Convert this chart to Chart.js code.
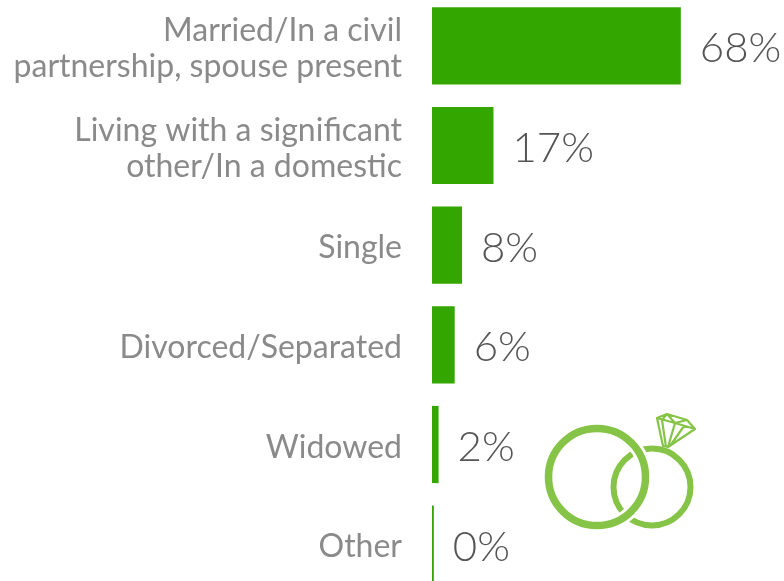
<!DOCTYPE html>
<html><head><meta charset="utf-8">
<style>html,body{margin:0;padding:0;background:#fff;overflow:hidden}#w{position:relative;width:784px;height:581px;overflow:hidden}canvas{display:block;position:absolute;left:0;top:-4px}</style>
<script src="https://cdn.jsdelivr.net/npm/chart.js@4"></script></head>
<body><div id="w"><canvas id="c" width="784" height="598"></canvas></div>
<script>
const categories=[["Married/In a civil","partnership, spouse present"],["Living with a significant","other/In a domestic"],["Single"],["Divorced/Separated"],["Widowed"],["Other"]];
const values=[68,16.8,8.2,6.2,1.8,0.5];
const valueLabels=["68%","17%","8%","6%","2%","0%"];
const FONT='Lato, "Open Sans", sans-serif';
const GREEN='#86c447';
const ringIcon={id:'ringIcon',afterDraw(ch){const x=ch.ctx;x.save();x.translate(0,4);
x.strokeStyle=GREEN;x.lineWidth=6;x.beginPath();x.arc(652,487,38.5,0,Math.PI*2);x.stroke();
x.strokeStyle='#fff';x.lineWidth=13;x.beginPath();x.arc(597,477,48.5,0,Math.PI*2);x.stroke();
x.strokeStyle=GREEN;x.lineWidth=7.5;x.beginPath();x.arc(597,477,48.5,0,Math.PI*2);x.stroke();
x.lineWidth=2.2;x.lineJoin='round';x.beginPath();
x.moveTo(657,418);x.lineTo(667,414);x.lineTo(687,420);x.lineTo(695,429);x.lineTo(668,447);x.lineTo(663,446);x.closePath();
x.moveTo(657,418);x.lineTo(675,423);x.lineTo(695,429);
x.moveTo(667,414);x.lineTo(675,423);x.lineTo(687,420);
x.moveTo(667,414);x.lineTo(662,420);x.lineTo(666,447);
x.moveTo(675,423);x.lineTo(668,447);
x.moveTo(684,426);x.lineTo(670,446);
x.stroke();x.restore();}};
const valueText={id:'valueText',afterDatasetsDraw(ch){const x=ch.ctx;const m=ch.getDatasetMeta(0);x.save();x.font='300 42px '+FONT;x.fillStyle='#555';x.textBaseline='middle';
m.data.forEach((b,i)=>x.fillText(valueLabels[i],b.x+19,b.y+3));x.restore();}};
new Chart(document.getElementById('c'),{type:'bar',data:{labels:categories,datasets:[{data:values,backgroundColor:'#34a600',barPercentage:.775,categoryPercentage:1}]},
options:{indexAxis:'y',responsive:false,animation:false,maintainAspectRatio:false,
layout:{padding:0,autoPadding:false},
plugins:{legend:{display:false},tooltip:{enabled:false}},
scales:{x:{min:0,max:96.2,display:false},
y:{grid:{display:false,drawTicks:false},border:{display:false},afterFit(a){a.width=432;a.paddingTop=0;a.paddingBottom=0},ticks:{color:'#8a8a8a',font:{family:FONT,size:32,weight:400,lineHeight:1.14},padding:30,labelOffset:3,autoSkip:false}}}},
plugins:[valueText,ringIcon]});
</script></body></html>
